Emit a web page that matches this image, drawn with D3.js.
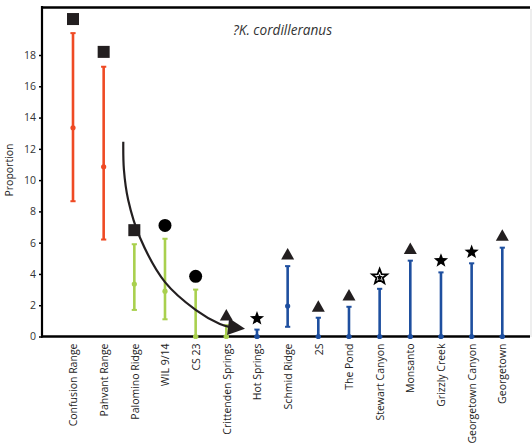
<!DOCTYPE html>
<html><head><meta charset="utf-8">
<script src="https://cdn.jsdelivr.net/npm/d3@7"></script>
<style>
html,body{margin:0;padding:0;background:#fff;}
svg{display:block;font-family:"Open Sans",sans-serif;}
</style></head>
<body><svg id="c" width="532" height="445"></svg>
<script>
const categories = ["Confusion Range","Pahvant Range","Palomino Ridge","WIL 9/14","CS 23","Crittenden Springs","Hot Springs","Schmid Ridge","2S","The Pond","Stewart Canyon","Monsanto","Grizzly Creek","Georgetown Canyon","Georgetown"];
const groups   = ["red","red","green","green","green","green","blue","blue","blue","blue","blue","blue","blue","blue","blue"];
const lower    = [8.65, 6.2, 1.7, 1.1, 0, 0, 0, 0.62, 0, 0, 0, 0, 0, 0, 0];
const mean     = [13.35, 10.85, 3.35, 2.9, 0, 0, 0, 1.95, 0, 0, 0, 0, 0, 0, 0];
const upper    = [19.4, 17.25, 5.9, 6.25, 3.0, 0.72, 0.44, 4.5, 1.2, 1.9, 3.05, 4.85, 4.1, 4.68, 5.68];
const markerShape = ["square","square","square","circle","circle","triangle","star","triangle","triangle","triangle","openstar","triangle","star","star","triangle"];
const markerValue = [20.3, 18.2, 6.8, 7.1, 3.85, 1.35, 1.15, 5.25, 1.9, 2.62, 3.82, 5.6, 4.85, 5.4, 6.45];
const yTicks = [0,2,4,6,8,10,12,14,16,18];
const title = "?K. cordilleranus";
const yLabel = "Proportion";
// trend annotation arrow, in (category index, value) units
const trendIdx = [1.64, 1.66, 1.80, 2.19, 3.0, 4.01, 4.79, 5.15];
const trendVal = [12.46, 10.68, 8.73, 6.30, 3.48, 1.69, 0.80, 0.58];

const colors = {red:"#ef4a24", green:"#a9d04e", blue:"#1e4f9f"};
const markFill = "#231f20";

const svg = d3.select("#c");
const x = d3.scalePoint().domain(categories).range([73, 502.3]);
const xi = d3.scaleLinear().domain([0, categories.length-1]).range([73, 502.3]);
const y = d3.scaleLinear().domain([0, 21.07]).range([336.5, 7]);

// frame
svg.append("line").attr("x1",42).attr("x2",530).attr("y1",7.5).attr("y2",7.5).attr("stroke","#000").attr("stroke-width",2.5);
svg.append("line").attr("x1",531).attr("x2",531).attr("y1",9).attr("y2",337).attr("stroke","#ddd").attr("stroke-width",1);

// y axis
const yAxis = svg.append("g").attr("transform","translate(42,0)")
  .call(d3.axisLeft(y).tickValues(yTicks).tickSize(3).tickPadding(3).tickFormat(d3.format("d")));
yAxis.select(".domain").attr("stroke","#000").attr("stroke-width",2.2).attr("d","M0,6V337.5");
yAxis.selectAll(".tick line").attr("stroke","#000").attr("stroke-width",1.5);
yAxis.selectAll(".tick text").attr("font-size",10.5).attr("fill","#333").attr("font-family","Open Sans, sans-serif");

// x axis
const xAxis = svg.append("g").attr("transform","translate(0,336.5)")
  .call(d3.axisBottom(x).tickSize(0).tickPadding(0));
xAxis.select(".domain").attr("stroke","#000").attr("stroke-width",2.5).attr("d","M41,0H530");
xAxis.selectAll(".tick text")
  .attr("transform","rotate(-90)")
  .attr("text-anchor","end")
  .attr("x",-7).attr("y",0).attr("dy","0.35em")
  .attr("font-size",10.5).attr("fill","#222").attr("font-family","Open Sans, sans-serif");

// labels
svg.append("text").attr("transform","translate(13,170) rotate(-90)").attr("text-anchor","middle")
  .attr("font-size",10.5).attr("fill","#222").text(yLabel);
svg.append("text").attr("x",233).attr("y",35).attr("font-size",13.6).attr("font-style","italic").attr("fill","#333").text(title);

// error bars
const bars = svg.append("g");
categories.forEach((c,i)=>{
  const col = colors[groups[i]];
  const cx = x(c);
  bars.append("line").attr("x1",cx).attr("x2",cx).attr("y1",y(lower[i])).attr("y2",y(upper[i]))
    .attr("stroke",col).attr("stroke-width",2.6);
  [lower[i], upper[i]].forEach(v=>{
    bars.append("line").attr("x1",cx-2.6).attr("x2",cx+2.6).attr("y1",y(v)).attr("y2",y(v))
      .attr("stroke",col).attr("stroke-width",2);
  });
  bars.append("circle").attr("cx",cx).attr("cy",y(mean[i])).attr("r",2.6).attr("fill",col);
});

// trend curve
const pts = trendIdx.map((t,k)=>[xi(t), y(trendVal[k])]);
svg.append("path").attr("d", d3.line().curve(d3.curveCatmullRom.alpha(0.5))(pts))
  .attr("fill","none").attr("stroke","#231f20").attr("stroke-width",2.2);
// arrow head
{
  const base = [xi(5.06), y(0.63)], tip = [xi(5.61), y(0.5)];
  const ang = Math.atan2(tip[1]-base[1], tip[0]-base[0]);
  const hw = 8.5;
  const a = [base[0]+hw*Math.sin(ang), base[1]-hw*Math.cos(ang)];
  const b = [base[0]-hw*Math.sin(ang), base[1]+hw*Math.cos(ang)];
  svg.append("path").attr("d", `M${tip}L${a}L${b}Z`).attr("fill","#231f20");
}

// markers
const starPath = (cx, cy, R) => {
  const r = R*0.42; let d = "";
  for (let k=0;k<10;k++){
    const rad = k%2===0?R:r; const a = -Math.PI/2 + k*Math.PI/5;
    d += (k===0?"M":"L") + (cx+rad*Math.cos(a)).toFixed(2)+","+(cy+rad*Math.sin(a)).toFixed(2);
  }
  return d+"Z";
};
categories.forEach((c,i)=>{
  const cx = x(c), cy = y(markerValue[i]), s = markerShape[i];
  if (s==="square") svg.append("rect").attr("x",cx-6).attr("y",cy-6).attr("width",12).attr("height",12).attr("fill",markFill);
  else if (s==="circle") svg.append("circle").attr("cx",cx).attr("cy",cy).attr("r",6.5).attr("fill","#000");
  else if (s==="triangle") svg.append("path").attr("d",`M${cx},${cy-6.5}L${cx+6.5},${cy+5}L${cx-6.5},${cy+5}Z`).attr("fill",markFill);
  else if (s==="star") svg.append("path").attr("d",starPath(cx,cy,7.5)).attr("fill","#000");
  else if (s==="openstar") {
    svg.append("path").attr("d",starPath(cx,cy,8)).attr("fill","#fff").attr("stroke","#000").attr("stroke-width",1.8);
    svg.append("path").attr("d",starPath(cx,cy+0.5,3.5)).attr("fill","#000");
  }
});
</script></body></html>
